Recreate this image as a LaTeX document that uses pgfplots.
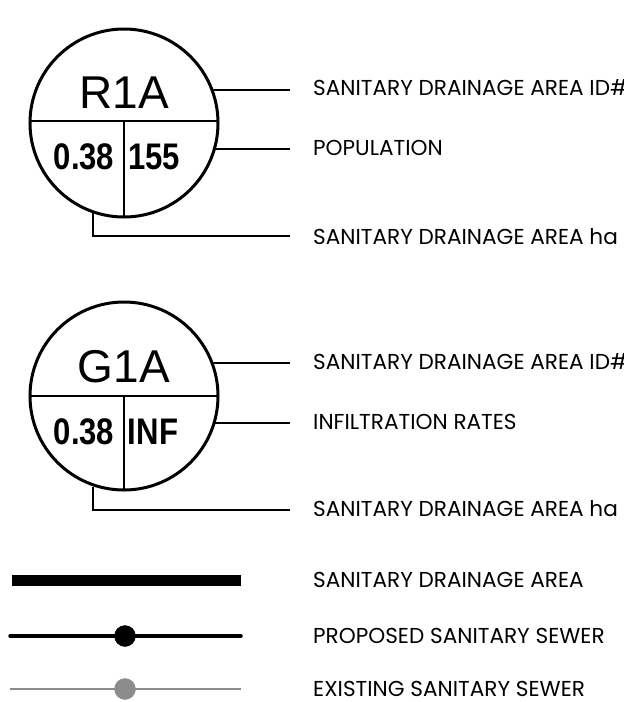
\documentclass[border=0pt]{standalone}
\usepackage{pgfplots}
\pgfplotsset{compat=1.18}
\usepackage{fontspec}
\setmainfont{Liberation Sans}
\newfontfamily\labfont{Poppins}
\newcommand{\lab}[1]{{\labfont\fontsize{21.6}{24}\selectfont #1}}
\newcommand{\idt}[1]{{\fontsize{46}{50}\selectfont #1}}
\newcommand{\bnum}[1]{\scalebox{0.84}[1]{\fontsize{37}{40}\selectfont\bfseries #1}}
\begin{document}
\begin{tikzpicture}
\begin{axis}[at={(0,0)},anchor=south west,scale only axis,width=624pt,height=702pt,
  xmin=0,xmax=624,ymin=0,ymax=702,y dir=reverse,hide axis,clip=false]
% circles
\addplot[only marks,mark=o,mark size=94pt,mark options={fill=none,draw=black,line width=3pt}] coordinates {(124,123) (124,396)};
% dividers
\addplot[black,line width=2.8pt] coordinates {(30,121) (218,121)};
\addplot[black,line width=2.8pt] coordinates {(124,121) (124,217)};
\addplot[black,line width=2.8pt] coordinates {(30,396) (218,396)};
\addplot[black,line width=2.8pt] coordinates {(124,396) (124,490)};
% leaders
\addplot[black,line width=1.3pt] coordinates {(212,90) (290,90)};
\addplot[black,line width=1.3pt] coordinates {(214,149) (290,149)};
\addplot[black,line width=1.3pt] coordinates {(93,213) (93,236) (290,236)};
\addplot[black,line width=1.3pt] coordinates {(212,363) (290,363)};
\addplot[black,line width=1.3pt] coordinates {(214,423) (290,423)};
\addplot[black,line width=1.3pt] coordinates {(93,487) (93,510) (290,510)};
% bottom legend lines
\addplot[black,line width=11pt] coordinates {(12,580) (241,580)};
\addplot[black,line width=3.5pt,line cap=round] coordinates {(10,636) (241,636)};
\addplot[only marks,mark=*,mark size=10.5pt,mark options={fill=black,draw=black}] coordinates {(125,636)};
\addplot[gray!90,line width=1.8pt] coordinates {(10,689) (241,689)};
\addplot[only marks,mark=*,mark size=10.5pt,mark options={fill=black!45,draw=black!45}] coordinates {(125,689)};
% circle texts
\node at (axis cs:124,93) {\idt{R1A}};
\node at (axis cs:84,157) {\bnum{0.38}};
\node at (axis cs:154,157) {\bnum{155}};
\node at (axis cs:124,367) {\idt{G1A}};
\node at (axis cs:84,432) {\bnum{0.38}};
\node at (axis cs:153,432) {\bnum{INF}};
% labels
\node[anchor=west,inner sep=0pt] at (axis cs:313,88) {\lab{SANITARY DRAINAGE AREA ID\#}};
\node[anchor=west,inner sep=0pt] at (axis cs:313,148) {\lab{POPULATION}};
\node[anchor=west,inner sep=0pt] at (axis cs:313,237) {\lab{SANITARY DRAINAGE AREA ha}};
\node[anchor=west,inner sep=0pt] at (axis cs:313,362) {\lab{SANITARY DRAINAGE AREA ID\#}};
\node[anchor=west,inner sep=0pt] at (axis cs:313,422) {\lab{INFILTRATION RATES}};
\node[anchor=west,inner sep=0pt] at (axis cs:313,509) {\lab{SANITARY DRAINAGE AREA ha}};
\node[anchor=west,inner sep=0pt] at (axis cs:313,580) {\lab{SANITARY DRAINAGE AREA}};
\node[anchor=west,inner sep=0pt] at (axis cs:313,636) {\lab{PROPOSED SANITARY SEWER}};
\node[anchor=west,inner sep=0pt] at (axis cs:313,689) {\lab{EXISTING SANITARY SEWER}};
\end{axis}
\pgfresetboundingbox
\useasboundingbox (0,0) rectangle (624pt,702pt);
\end{tikzpicture}
\end{document}
